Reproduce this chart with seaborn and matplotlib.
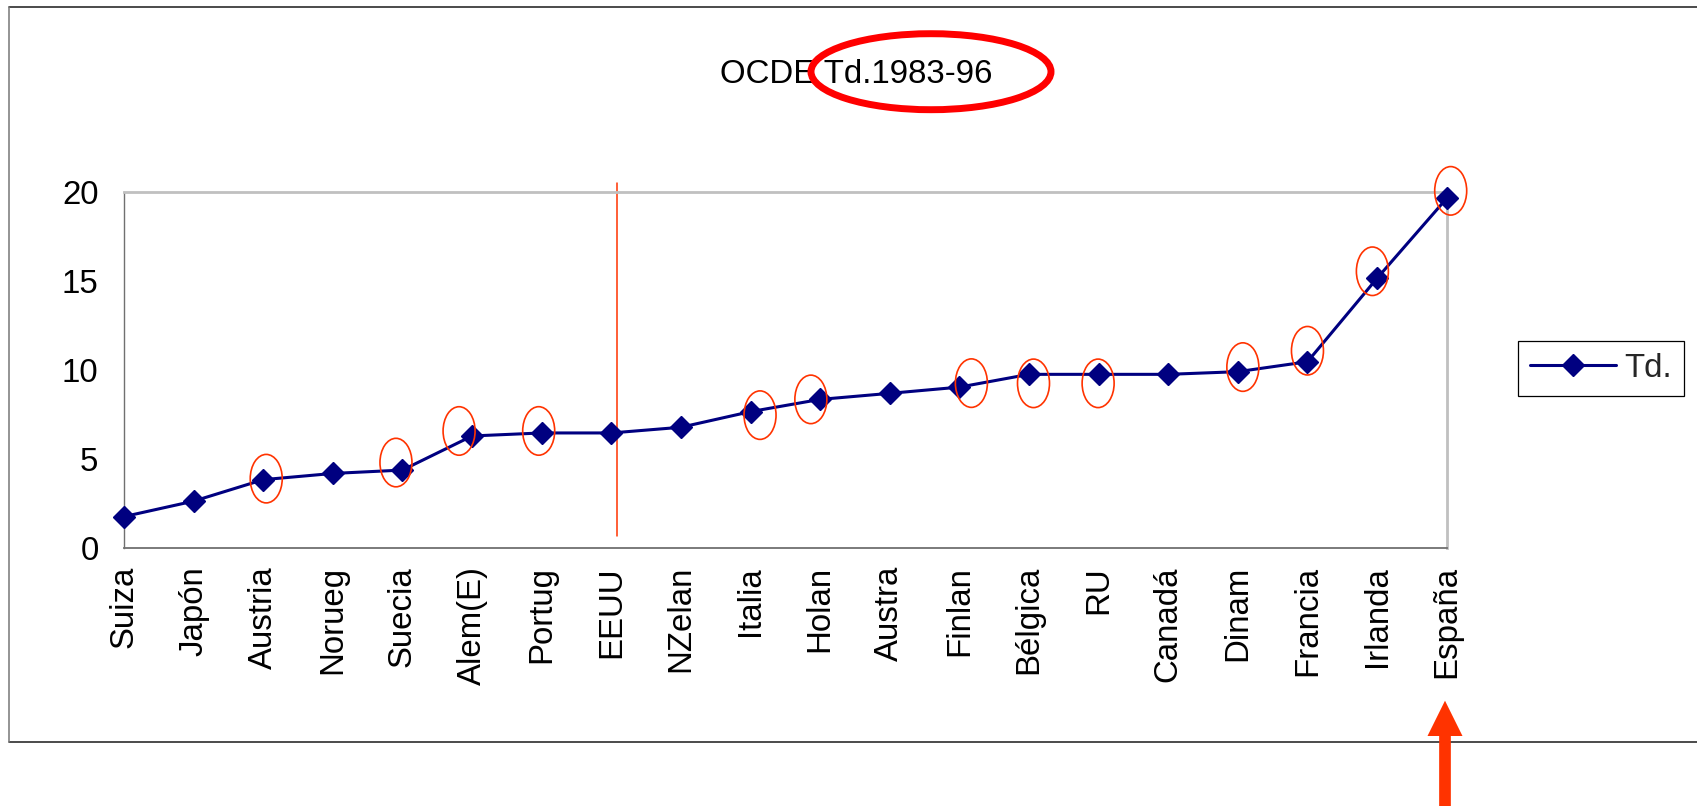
import matplotlib
matplotlib.use("Agg")
import matplotlib.pyplot as plt
from matplotlib.patches import Ellipse, FancyArrow
from matplotlib.lines import Line2D
import seaborn as sns
import pandas as pd

# ---- data ----
countries = ["Suiza", "Japón", "Austria", "Norueg", "Suecia", "Alem(E)", "Portug",
             "EEUU", "NZelan", "Italia", "Holan", "Austra", "Finlan", "Bélgica",
             "RU", "Canadá", "Dinam", "Francia", "Irlanda", "España"]
td_values = [1.74, 2.61, 3.82, 4.17, 4.36, 6.28, 6.45, 6.45, 6.77, 7.65, 8.34,
             8.68, 9.03, 9.75, 9.75, 9.75, 9.90, 10.46, 15.16, 19.66]
series_name = "Td."
title_text = "OCDE Td.1983-96"
y_ticks = [0, 5, 10, 15, 20]
highlighted = ["Austria", "Suecia", "Alem(E)", "Portug", "Italia", "Holan", "Finlan",
               "Bélgica", "RU", "Dinam", "Francia", "Irlanda", "España"]
divider_after = "EEUU"

# ellipse centre offsets relative to the marker, in pixels (x right, y down)
ellipse_offsets_px = {
    "Austria": (3, -1), "Suecia": (-6.5, -7.5), "Alem(E)": (-13, -5),
    "Portug": (-3, -2), "Italia": (9.5, 3.5), "Holan": (-9.3, 0),
    "Finlan": (12, -4), "Bélgica": (4.5, 9), "RU": (-0.5, 9),
    "Dinam": (5, -4.6), "Francia": (0, -11), "Irlanda": (-4.7, -7),
    "España": (4, -7.5),
}

sns.set_theme(style="white")
plt.rcParams["font.family"] = ["Liberation Sans", "DejaVu Sans"]

W, H, DPI = 1697, 806, 100
fig = plt.figure(figsize=(W / DPI, H / DPI), dpi=DPI)
fig.patch.set_facecolor("white")

ax_l, ax_r, ax_t, ax_b = 124, 1446.7, 192.3, 547.5
ax = fig.add_axes([ax_l / W, 1 - ax_b / H, (ax_r - ax_l) / W, (ax_b - ax_t) / H])
ax.set_facecolor("white")

df = pd.DataFrame({"country": countries, "value": td_values})
navy = "#000080"
sns.lineplot(data=df, x="country", y="value", sort=False, ax=ax, color=navy,
             linewidth=2.2, marker="D", markersize=11, markeredgewidth=1,
             markeredgecolor=navy, markerfacecolor=navy, label=series_name,
             clip_on=False, zorder=3)

n = len(countries)
ax.set_xlim(0, n - 1)
ax.set_ylim(0, 20)
ax.set_yticks(y_ticks)
ax.set_yticklabels([str(v) for v in y_ticks])
ax.set_xticks(range(n))
ax.set_xticklabels(countries, rotation=90, ha="center", va="top")
ax.set_xlabel("")
ax.set_ylabel("")

fs = 23.8
ax.tick_params(axis="both", which="major", labelsize=fs, colors="black",
               direction="inout", length=13.7, width=0.9)
ax.tick_params(axis="y", pad=11.5)
ax.tick_params(axis="x", pad=6.5)
for s in ["top", "right"]:
    ax.spines[s].set_color("#C0C0C0")
    ax.spines[s].set_linewidth(2.0)
ax.spines["left"].set_color("#707070")
ax.spines["left"].set_linewidth(1.0)
ax.spines["bottom"].set_color("#707070")
ax.spines["bottom"].set_linewidth(1.3)
ax.grid(False)

# legend
handles, labels = ax.get_legend_handles_labels()
ax.get_legend().remove()
leg = fig.legend(handles, labels, loc="center left",
                 bbox_to_anchor=(1517.7 / W, 1 - 368.5 / H),
                 fontsize=fs, frameon=True, fancybox=False, shadow=False,
                 framealpha=1, edgecolor="black", borderpad=0.36,
                 handlelength=2.6, handletextpad=0.27, borderaxespad=0)
leg.get_frame().set_linewidth(0.9)

# small red ellipses around highlighted points
px_x = (ax_r - ax_l) / (n - 1)
px_y = (ax_b - ax_t) / 20.0
ell_w, ell_h = 32 / px_x, 48.5 / px_y
for c in highlighted:
    i = countries.index(c)
    dx, dy = ellipse_offsets_px[c]
    e = Ellipse((i + dx / px_x, td_values[i] - dy / px_y), ell_w, ell_h,
                transform=ax.transData, fill=False, edgecolor="#FF3300",
                linewidth=1.2, clip_on=False, zorder=4)
    ax.add_patch(e)

# vertical red divider line just right of EEUU
xi = countries.index(divider_after) + 0.08
ax.plot([xi, xi], [(ax_b - 536) / px_y, (ax_b - 182.7) / px_y], color="#FF3300",
        linewidth=1.1, clip_on=False, zorder=2)

# title
fig.text(856 / W, 1 - 83.3 / H, title_text, ha="center", va="baseline",
         fontsize=fs, color="black")

# big red ellipse around part of title
inch = fig.dpi_scale_trans
fig.patches.append(Ellipse((931 / DPI, (H - 71.7) / DPI), 2.40, 0.76,
                           transform=inch, fill=False, edgecolor="#FF0000",
                           linewidth=5, zorder=10))

# outer border (open on the right)
fig.lines.append(Line2D([9.3 / DPI, W / DPI], [(H - 6.7) / DPI] * 2, transform=inch,
                        color="#1a1a1a", linewidth=1.1))
fig.lines.append(Line2D([9.3 / DPI, W / DPI], [(H - 741.7) / DPI] * 2, transform=inch,
                        color="#1a1a1a", linewidth=1.1))
fig.lines.append(Line2D([9.3 / DPI] * 2, [(H - 6.7) / DPI, (H - 741.7) / DPI],
                        transform=inch, color="#777777", linewidth=1.1))

# red arrow pointing at España
arrow_x = 1445 / DPI
fig.patches.append(FancyArrow(arrow_x, -0.1, 0, (H - 700.7) / DPI + 0.1,
                              width=0.117, head_width=0.35, head_length=0.353,
                              length_includes_head=True, transform=inch,
                              color="#FF3300", linewidth=0, zorder=10))

fig.savefig("out.png", dpi=DPI, facecolor="white")
